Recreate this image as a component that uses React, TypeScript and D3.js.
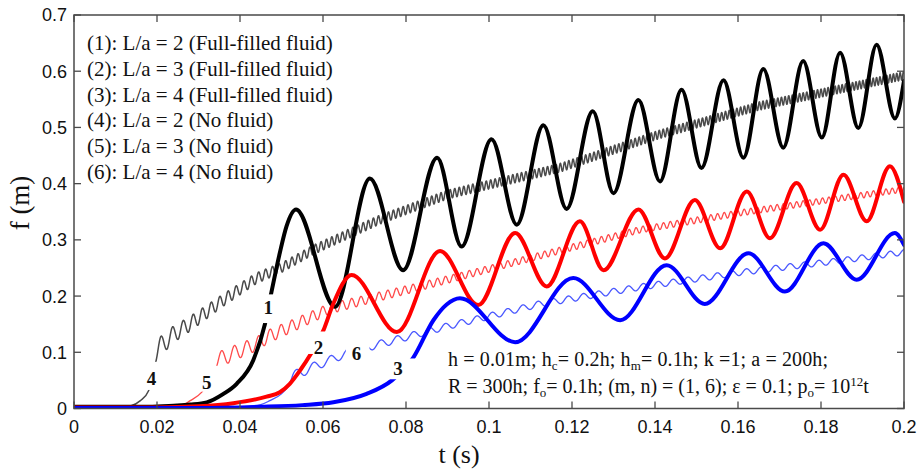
import React, { useMemo } from "react";
import * as d3 from "d3";

// ---------------- data ----------------
const xTicks = [0, 0.02, 0.04, 0.06, 0.08, 0.1, 0.12, 0.14, 0.16, 0.18, 0.2];
const xTickLabels = ["0", "0.02", "0.04", "0.06", "0.08", "0.1", "0.12", "0.14", "0.16", "0.18", "0.2"];
const yTicks = [0, 0.1, 0.2, 0.3, 0.4, 0.5, 0.6, 0.7];
const yTickLabels = ["0", "0.1", "0.2", "0.3", "0.4", "0.5", "0.6", "0.7"];

const legendLines = [
  "(1): L/a = 2 (Full-filled fluid)",
  "(2): L/a = 3 (Full-filled fluid)",
  "(3): L/a = 4 (Full-filled fluid)",
  "(4): L/a = 2 (No fluid)",
  "(5): L/a = 3 (No fluid)",
  "(6): L/a = 4 (No fluid)",
];

// (1) L/a = 2, full-filled fluid (thick black)
const t1 = [0, 0.018, 0.024, 0.028, 0.032, 0.036, 0.0392, 0.0432, 0.046, 0.0476, 0.0496, 0.0512, 0.0535, 0.0629, 0.0713, 0.0793, 0.0875, 0.0934, 0.1006, 0.1067, 0.1131, 0.1187, 0.125, 0.13, 0.136, 0.1412, 0.1464, 0.1512, 0.1565, 0.1613, 0.1661, 0.1709, 0.1757, 0.1802, 0.1846, 0.189, 0.1934, 0.1978, 0.2];
const f1 = [0.003, 0.003, 0.005, 0.007, 0.011, 0.026, 0.044, 0.086, 0.15, 0.208, 0.277, 0.324, 0.354, 0.181, 0.409, 0.246, 0.446, 0.288, 0.479, 0.327, 0.504, 0.355, 0.529, 0.383, 0.549, 0.404, 0.567, 0.428, 0.584, 0.446, 0.604, 0.464, 0.618, 0.482, 0.633, 0.499, 0.647, 0.516, 0.583];

// (2) L/a = 3, full-filled fluid (thick red)
const t2 = [0, 0.02, 0.03, 0.0384, 0.0464, 0.0496, 0.052, 0.0545, 0.0569, 0.0601, 0.0624, 0.0669, 0.0778, 0.0882, 0.0974, 0.1063, 0.1139, 0.1219, 0.1276, 0.136, 0.1424, 0.1496, 0.1557, 0.1621, 0.1677, 0.1741, 0.1798, 0.1854, 0.191, 0.1966, 0.2];
const f2 = [0.002, 0.002, 0.004, 0.0095, 0.021, 0.029, 0.044, 0.068, 0.095, 0.139, 0.185, 0.2375, 0.136, 0.28, 0.184, 0.312, 0.217, 0.333, 0.246, 0.354, 0.267, 0.371, 0.285, 0.386, 0.303, 0.401, 0.318, 0.416, 0.333, 0.431, 0.368];

// (3) L/a = 4, full-filled fluid (thick blue)
const t3 = [0, 0.03, 0.045, 0.055, 0.0625, 0.0705, 0.0766, 0.0818, 0.0866, 0.0898, 0.093, 0.1063, 0.1203, 0.1316, 0.1428, 0.152, 0.1625, 0.1713, 0.1806, 0.1886, 0.1978, 0.2];
const f3 = [0.001, 0.001, 0.003, 0.006, 0.011, 0.026, 0.05, 0.091, 0.157, 0.185, 0.196, 0.118, 0.232, 0.157, 0.255, 0.186, 0.276, 0.208, 0.294, 0.229, 0.312, 0.291];

// (4) L/a = 2, no fluid (thin grey) - mean line, ripple amplitude and ripple period
const t4 = [0, 0.012, 0.0135, 0.016, 0.018, 0.0195, 0.021, 0.024, 0.028, 0.036, 0.044, 0.0504, 0.0576, 0.0737, 0.0898, 0.093, 0.117, 0.141, 0.165, 0.2];
const f4 = [0.002, 0.002, 0.004, 0.014, 0.032, 0.097, 0.112, 0.132, 0.151, 0.193, 0.232, 0.252, 0.282, 0.336, 0.38, 0.386, 0.428, 0.4875, 0.538, 0.592];
const ripple4Start = 0.0195;
const amp4T = [0.0195, 0.025, 0.035, 0.05, 0.1, 0.2];
const amp4 = [0.018, 0.014, 0.011, 0.0085, 0.0078, 0.0072];
const per4T = [0.0195, 0.03, 0.045, 0.06, 0.09, 0.2];
const per4 = [0.003, 0.0022, 0.0017, 0.0013, 0.0011, 0.0008];

// (5) L/a = 3, no fluid (thin red)
const t5 = [0, 0.025, 0.028, 0.0308, 0.034, 0.038, 0.044, 0.0468, 0.052, 0.0617, 0.0818, 0.0978, 0.1123, 0.1364, 0.1605, 0.1846, 0.2];
const f5 = [0.001, 0.003, 0.014, 0.029, 0.084, 0.097, 0.115, 0.128, 0.145, 0.178, 0.214, 0.244, 0.272, 0.318, 0.348, 0.374, 0.39];
const ripple5Start = 0.034;
const amp5T = [0.034, 0.045, 0.07, 0.1, 0.2];
const amp5 = [0.014, 0.012, 0.008, 0.006, 0.005];
const per5T = [0.034, 0.05, 0.08, 0.12, 0.2];
const per5 = [0.0032, 0.0026, 0.002, 0.0017, 0.0015];

// (6) L/a = 4, no fluid (thin blue)
const t6 = [0, 0.04, 0.045, 0.0472, 0.05, 0.0515, 0.0528, 0.058, 0.0653, 0.0713, 0.0898, 0.1123, 0.1364, 0.1605, 0.1846, 0.2];
const f6 = [0.001, 0.003, 0.007, 0.014, 0.026, 0.047, 0.058, 0.075, 0.097, 0.11, 0.146, 0.186, 0.216, 0.242, 0.263, 0.278];
const ripple6Start = 0.0515;
const amp6T = [0.0515, 0.06, 0.09, 0.2];
const amp6 = [0.009, 0.0075, 0.0058, 0.005];
const per6T = [0.0515, 0.1, 0.2];
const per6 = [0.0042, 0.0037, 0.0034];

// curve number labels (anchor in data units) and the gaps they cut in their curves [t0, t1, f0, f1]
const curveLabels = ["1", "2", "3", "4", "5", "6"];
const curveLabelT = [0.0468, 0.0589, 0.0781, 0.0187, 0.032, 0.0681];
const curveLabelF = [0.18, 0.1095, 0.0709, 0.053, 0.047, 0.0977];
const curveGaps = [
  [0.044, 0.05, 0.152, 0.203],
  [0.054, 0.0625, 0.097, 0.137],
  [0.074, 0.085, 0.052, 0.089],
  [0.014, 0.0225, 0.033, 0.083],
  [0.029, 0.036, 0.03, 0.076],
  [0.0655, 0.0712, 0.06, 0.14],
];

// ---------------- layout ----------------
const W = 921;
const H = 471;
const X0 = 74;
const X1 = 904;
const Y0 = 408.5;
const Y1 = 15;
const AXIS = "#4a4a4a";
const SERIF = "'Liberation Serif', 'Times New Roman', serif";
const SANS = "'Liberation Sans', Arial, sans-serif";

function rippled(ts: number[], fs: number[], start: number, aT: number[], aV: number[], pT: number[], pV: number[]) {
  const trend = d3.scaleLinear().domain(ts).range(fs);
  const amp = d3.scaleLinear().domain(aT).range(aV).clamp(true);
  const per = d3.scaleLinear().domain(pT).range(pV).clamp(true);
  const pts: [number, number][] = [];
  for (let i = 0; i < ts.length && ts[i] < start; i++) pts.push([ts[i], fs[i]]);
  const step = 0.00004;
  let phase = -Math.PI / 2;
  for (let t = start; t <= 0.2 + 1e-9; t += step) {
    pts.push([t, trend(t) + amp(t) * Math.sin(phase)]);
    phase += (2 * Math.PI * step) / per(t);
  }
  return pts;
}

export default function App() {
  const x = d3.scaleLinear().domain([0, 0.2]).range([X0, X1]);
  const y = d3.scaleLinear().domain([0, 0.7]).range([Y0, Y1]);

  const line = d3
    .line<[number, number]>()
    .x((d) => x(d[0]))
    .y((d) => y(d[1]))
    .curve(d3.curveMonotoneX);

  const paths = useMemo(() => {
    const zip = (a: number[], b: number[]) => a.map((v, i) => [v, b[i]] as [number, number]);
    return {
      p1: line(zip(t1, f1)) || "",
      p2: line(zip(t2, f2)) || "",
      p3: line(zip(t3, f3)) || "",
      p4: line(rippled(t4, f4, ripple4Start, amp4T, amp4, per4T, per4)) || "",
      p5: line(rippled(t5, f5, ripple5Start, amp5T, amp5, per5T, per5)) || "",
      p6: line(rippled(t6, f6, ripple6Start, amp6T, amp6, per6T, per6)) || "",
    };
  }, []);

  const series = [
    { key: "4", d: paths.p4, stroke: "#4a4a4a", w: 1.5, gap: 3 },
    { key: "5", d: paths.p5, stroke: "#ff4a4a", w: 1.3, gap: 4 },
    { key: "6", d: paths.p6, stroke: "#4a58ff", w: 1.3, gap: 5 },
    { key: "1", d: paths.p1, stroke: "#000000", w: 4, gap: 0 },
    { key: "2", d: paths.p2, stroke: "#ff0000", w: 4, gap: 1 },
    { key: "3", d: paths.p3, stroke: "#0000ff", w: 4, gap: 2 },
  ];

  const TL = 7;

  return (
    <svg
      width={W}
      height={H}
      viewBox={`0 0 ${W} ${H}`}
      style={{ position: "absolute", left: 0, top: 0, background: "#fff" }}
    >
      <defs>
        <clipPath id="plot">
          <rect x={X0} y={Y1} width={X1 - X0} height={Y0 - Y1} />
        </clipPath>
        {curveGaps.map((g, i) => (
          <mask key={i} id={`gap${i}`} maskUnits="userSpaceOnUse" x={0} y={0} width={W} height={H}>
            <rect x={0} y={0} width={W} height={H} fill="#fff" />
            <rect x={x(g[0])} y={y(g[3])} width={x(g[1]) - x(g[0])} height={y(g[2]) - y(g[3])} fill="#000" />
          </mask>
        ))}
      </defs>
      <rect x={0} y={0} width={W} height={H} fill="#fff" />

      {/* curves */}
      <g clipPath="url(#plot)">
        {series.map((s) => (
          <path
            key={s.key}
            d={s.d}
            fill="none"
            stroke={s.stroke}
            strokeWidth={s.w}
            strokeLinejoin="round"
            strokeLinecap="round"
            mask={`url(#gap${s.gap})`}
          />
        ))}
      </g>

      {/* frame */}
      <rect x={X0} y={Y1} width={X1 - X0} height={Y0 - Y1} fill="none" stroke={AXIS} strokeWidth={1.5} />
      {xTicks.map((t, i) => (
        <g key={`xt${i}`}>
          <line x1={x(t)} x2={x(t)} y1={Y0} y2={Y0 - TL} stroke={AXIS} strokeWidth={1.3} />
          <line x1={x(t)} x2={x(t)} y1={Y1} y2={Y1 + TL} stroke={AXIS} strokeWidth={1.3} />
          <text x={x(t)} y={Y0 + 24} textAnchor="middle" fontFamily={SANS} fontSize={18} fill="#111">
            {xTickLabels[i]}
          </text>
        </g>
      ))}
      {yTicks.map((v, i) => (
        <g key={`yt${i}`}>
          <line x1={X0} x2={X0 + TL} y1={y(v)} y2={y(v)} stroke={AXIS} strokeWidth={1.3} />
          <line x1={X1} x2={X1 - TL} y1={y(v)} y2={y(v)} stroke={AXIS} strokeWidth={1.3} />
          <text x={X0 - 7} y={y(v)} dy="0.36em" textAnchor="end" fontFamily={SANS} fontSize={18} fill="#111">
            {yTickLabels[i]}
          </text>
        </g>
      ))}

      {/* axis titles */}
      <text x={459} y={463} textAnchor="middle" fontFamily={SERIF} fontSize={26} fill="#111">
        t (s)
      </text>
      <text
        transform="translate(20,203) rotate(-90)"
        textAnchor="middle"
        dy="0.33em"
        fontFamily={SERIF}
        fontSize={27}
        fill="#111"
      >
        f (m)
      </text>

      {/* legend */}
      {legendLines.map((s, i) => (
        <text key={`lg${i}`} x={87} y={50 + i * 25.8} fontFamily={SERIF} fontSize={21} fill="#111">
          {s}
        </text>
      ))}

      {/* curve labels */}
      {curveLabels.map((s, i) => (
        <text
          key={`cl${i}`}
          x={x(curveLabelT[i])}
          y={y(curveLabelF[i])}
          dy="0.35em"
          textAnchor="middle"
          fontFamily={SERIF}
          fontWeight="bold"
          fontSize={19}
          fill="#111"
        >
          {s}
        </text>
      ))}

      {/* parameters */}
      <text x={448} y={366} fontFamily={SERIF} fontSize={20} fill="#111" textLength={380} lengthAdjust="spacing">
        h = 0.01m; h<tspan fontSize={13} dy={4}>c</tspan>
        <tspan dy={-4}>= 0.2h; h</tspan>
        <tspan fontSize={13} dy={4}>m</tspan>
        <tspan dy={-4}>= 0.1h; k =1; a = 200h;</tspan>
      </text>
      <text x={448} y={393} fontFamily={SERIF} fontSize={20} fill="#111">
        R = 300h; f<tspan fontSize={13} dy={4}>o</tspan>
        <tspan dy={-4}>= 0.1h; (m, n) = (1, 6); ε = 0.1; p</tspan>
        <tspan fontSize={13} dy={4}>o</tspan>
        <tspan dy={-4}>= 10</tspan>
        <tspan fontSize={13} dy={-7}>12</tspan>
        <tspan dy={7}>t</tspan>
      </text>
    </svg>
  );
}
